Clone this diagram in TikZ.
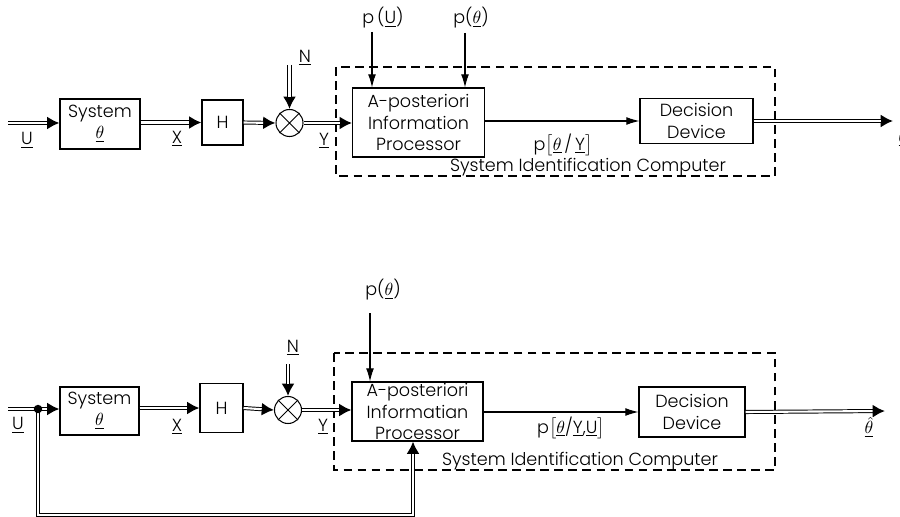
\documentclass[tikz,border=0pt]{standalone}
\usepackage{fontspec}
\setmainfont{Poppins Light}
\usetikzlibrary{arrows.meta}

\begin{document}
\begin{tikzpicture}[x=0.02cm, y=-0.02cm,
  font=\fontsize{10}{12}\selectfont,
  blk/.style={draw, line width=0.6pt, inner sep=0pt, align=center},
  sumnode/.style={draw, circle, line width=0.6pt, minimum size=0.54cm, inner sep=0pt},
  dlineplain/.style={line width=2.3pt, postaction={draw=white, line width=1.2pt}},
  dline/.style={line width=2.3pt, -{Latex[length=7pt,width=7.5pt]},
    postaction={draw=white, line width=1.2pt, -, shorten >=7pt}},
  sline/.style={line width=0.6pt, -{Latex[length=7.5pt,width=4.5pt]}},
  sicbox/.style={line width=0.6pt, dash pattern=on 5pt off 3pt},
  lbl/.style={inner sep=1pt}]
\clip (0,0) rectangle (900,517);
\fill[white] (0,0) rectangle (900,517);

% upper diagram
\draw[sicbox] (336,67) rectangle (775,176);
\node[blk, minimum width=1.6cm, minimum height=1.0cm] (sys1) at (100,124) {System\\$\underline{\theta}$};
\node[blk, minimum width=0.82cm, minimum height=0.9cm] (h1) at (222.5,122.5) {H};
\node[sumnode] (sum1) at (289.5,123) {};
\draw[line width=0.6pt] (sum1.45) -- (sum1.225) (sum1.135) -- (sum1.315);
\node[blk, minimum width=2.64cm, minimum height=1.38cm] (proc1) at (418.5,122.5) {A-posteriori\\Information\\Processor};
\node[blk, minimum width=2.26cm, minimum height=0.9cm] (dec1) at (696.5,121) {Decision\\Device};
\coordinate (in1) at (8,123);
\coordinate (out1) at (893,121);
\coordinate (n1) at (289.5,65);
\coordinate (pu1) at (372,32);
\coordinate (pt1) at (465,33);
\node[lbl] (lu1) at (27,140) {\underline{U}};
\node[lbl] (lx1) at (177,139) {\underline{X}};
\node[lbl] (ly1) at (324,141) {\underline{Y}};
\node[lbl] (ln1) at (305,58) {\underline{N}};
\node[lbl] (lpu1) at (383,18) {p\,(\underline{U})};
\node[lbl] (lpt1) at (471,18) {p($\underline{\theta}$)};
\node[lbl] (lpy1) at (563,145) {p$\big[\underline{\theta}$\,/\,\underline{Y}$\big]$};
\node[lbl] (lsic1) at (588,167) {System Identification Computer};
\node[lbl] (lth1) at (903,136) {$\underline{\hat{\theta}}$};
\draw[dline] (in1) -- (in1 -| sys1.west);
\draw[dline] (sys1.east |- h1) -- (h1.west);
\draw[dline] (h1.east) -- (sum1.west);
\draw[dline] (n1) -- (sum1.north);
\draw[dline] (sum1.east) -- (sum1.east -| proc1.west);
\draw[sline] (pu1) -- (pu1 |- proc1.north);
\draw[sline] (pt1) -- (pt1 |- proc1.north);
\draw[sline] (proc1.east |- dec1) -- (dec1.west);
\draw[dline] (dec1.east) -- (out1);

% lower diagram
\draw[sicbox] (334,353) rectangle (775,470);
\node[blk, minimum width=1.58cm, minimum height=0.96cm] (sys2) at (99.5,411) {System\\$\underline{\theta}$};
\node[blk, minimum width=0.86cm, minimum height=0.98cm] (h2) at (221.5,408) {H};
\node[sumnode] (sum2) at (288,410) {};
\draw[line width=0.6pt] (sum2.45) -- (sum2.225) (sum2.135) -- (sum2.315);
\node[blk, minimum width=2.62cm, minimum height=1.18cm] (proc2) at (417.5,411.5) {A-posteriori\\Informatian\\Processor};
\node[blk, minimum width=2.12cm, minimum height=1.0cm] (dec2) at (692,412) {Decision\\Device};
\coordinate (in2) at (8,409);
\coordinate (j2) at (38,409);
\coordinate (out2) at (885,411);
\coordinate (n2) at (288,364);
\coordinate (pt2) at (370,313);
\coordinate (fb2) at (413,515);
\node[lbl] (lu2) at (18,425) {\underline{U}};
\node[lbl] (lx2) at (177,427) {\underline{X}};
\node[lbl] (ly2) at (323,427) {\underline{Y}};
\node[lbl] (ln2) at (293,348) {\underline{N}};
\node[lbl] (lpt2) at (383,290) {p($\underline{\theta}$)};
\node[lbl] (lpy2) at (571,428) {p$\big[\underline{\theta}$/\underline{Y},\underline{U}$\big]$};
\node[lbl] (lsic2) at (580,461) {System Identification Computer};
\node[lbl] (lth2) at (869,427) {$\underline{\hat{\theta}}$};
\draw[dlineplain] (in2) -- (j2);
\draw[dline] (j2) -- (j2 -| sys2.west);
\draw[dline] (sys2.east |- h2) -- (h2.west);
\draw[dline] (h2.east) -- (sum2.west);
\draw[dline] (n2) -- (sum2.north);
\draw[dline] (sum2.east) -- (sum2.east -| proc2.west);
\draw[dline] (j2) -- (j2 |- fb2) -- (fb2) -- (fb2 |- proc2.south);
\fill (j2) circle (2.4pt);
\draw[sline] (pt2) -- (pt2 |- proc2.north);
\draw[sline] (proc2.east |- dec2) -- (dec2.west);
\draw[dline] (dec2.east) -- (out2);
\end{tikzpicture}
\end{document}
